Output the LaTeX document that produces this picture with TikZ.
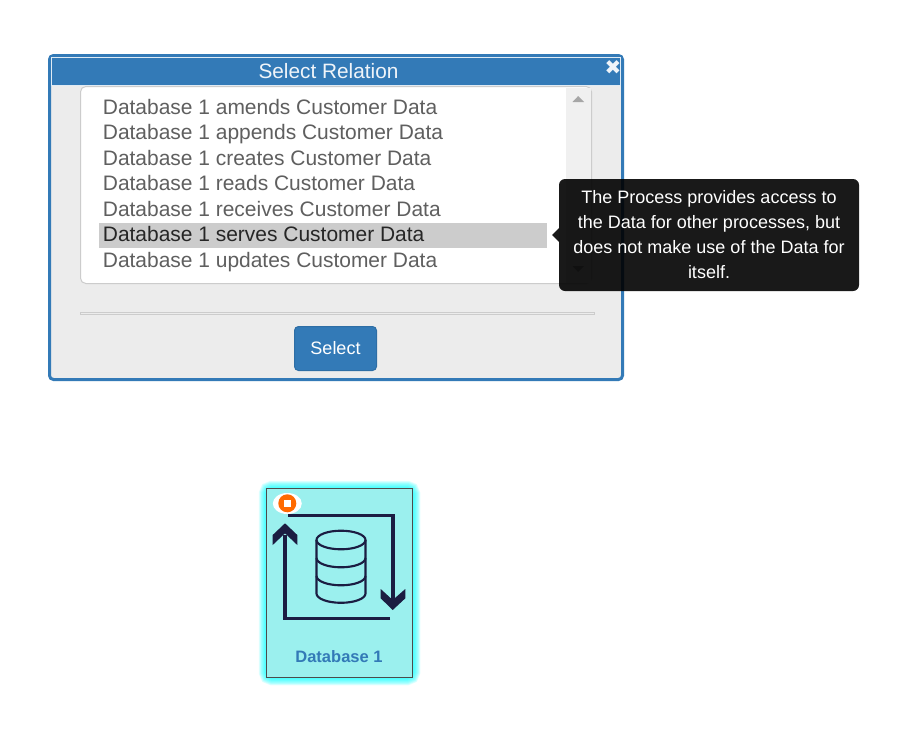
\documentclass[tikz,border=0pt]{standalone}
\usepackage{fontspec}
\setmainfont{Liberation Sans}
\newfontfamily\symfont{DejaVu Sans}
\usetikzlibrary{calc}
\definecolor{bsblue}{HTML}{337AB7}
\definecolor{dlgbg}{HTML}{ECECEC}
\definecolor{itemgrey}{HTML}{5F5F5F}
\definecolor{navyicon}{HTML}{1B1D42}
\definecolor{cardfill}{HTML}{9BF0EE}
\definecolor{glowcyan}{HTML}{00FFFF}
\definecolor{badgeorange}{HTML}{FF6A00}
\tikzset{
  x=0.75pt,y=-0.75pt,
  listitem/.style={anchor=base west,inner sep=0pt,text=itemgrey,font=\fontsize{15.72}{18}\selectfont},
  iconline/.style={draw=navyicon,line width=2.5pt},
  dbline/.style={draw=navyicon,line width=1.6pt},
  iconhead/.style={fill=navyicon,draw=none},
}
\begin{document}
\begin{tikzpicture}
\useasboundingbox (0,0) rectangle (900,732);
\fill[white] (0,0) rectangle (900,732);
% dialog
\draw[draw=bsblue,fill=dlgbg,line width=2.25pt,rounded corners=3pt] (49.5,55.5) rectangle (622.5,379.5);
\draw[fill=bsblue,draw=white!85!bsblue,line width=0.75pt] (51.5,57.5) rectangle (620.5,85);
\node[inner sep=0pt,text=white!92!bsblue,font=\fontsize{15.6}{18}\selectfont] (title) at (328.5,71) {Select Relation};
\node[inner sep=0pt,text=white!92!bsblue,font=\symfont\fontsize{15}{16}\selectfont] (closex) at (613,67.5) {✖};
% list box
\draw[draw=black!20,fill=white,line width=0.75pt,rounded corners=4pt] (80.5,86.5) rectangle (591.5,283.5);
\fill[black!6] (566,88) rectangle (591,283);
\fill[black!35] (572.5,102) -- (584,102) -- (578.2,96) -- cycle;
\fill[black!35] (572.5,266) -- (584,266) -- (578.2,272) -- cycle;
\fill[black!20] (99,223) rectangle (547,248);
\node[listitem] (i1) at (102.6,114) {Database 1 amends Customer Data};
\node[listitem] (i2) at (102.6,139.5) {Database 1 appends Customer Data};
\node[listitem] (i3) at (102.6,165) {Database 1 creates Customer Data};
\node[listitem] (i4) at (102.6,190.5) {Database 1 reads Customer Data};
\node[listitem] (i5) at (102.6,216) {Database 1 receives Customer Data};
\node[listitem,text=black!85] (i6) at (102.6,241.5) {Database 1 serves Customer Data};
\node[listitem] (i7) at (102.6,267) {Database 1 updates Customer Data};
% separator
\draw[draw=black!20,fill=dlgbg,line width=0.9pt] (80.5,312.3) rectangle (594.5,314.7);
% button
\draw[fill=bsblue,draw=bsblue!90!black,line width=0.75pt,rounded corners=3pt] (294.5,326.5) rectangle (376.5,370.5);
\node[inner sep=0pt,text=white,font=\fontsize{13.5}{16}\selectfont] (selectbtn) at (335.5,348) {Select};
% tooltip
\fill[black,opacity=0.9,rounded corners=4.5pt] (559,179) rectangle (859,291);
\fill[black,opacity=0.9] (559,228) -- (552,235) -- (559,242) -- cycle;
\node[inner sep=0pt,text=white,align=center,font=\fontsize{13.5}{18.75}\selectfont] (tip) at (709,234.5) {The Process provides access to\\the Data for other processes, but\\does not make use of the Data for\\itself.};
% card glow
\foreach \w in {15.5,14,12.5,11,9.5,8,6.5,5,3.5,2}{
  \draw[draw=glowcyan,opacity=0.11,line width=\w*0.75pt,rounded corners=4pt] (266.5,488.5) rectangle (412.5,677.5);
}
\draw[fill=cardfill,draw=black!70,line width=0.75pt] (266.5,488.5) rectangle (412.5,677.5);
% icon arrows
\draw[iconline] (288,515.3) -- (393,515.3) -- (393,600);
\draw[iconline] (390,618.3) -- (285,618.3) -- (285,535);
\fill[iconhead] (380.7,589) -- (392.7,600) -- (405.3,589) -- (405.3,598.3) -- (392.7,610) -- (380.7,598.3) -- cycle;
\fill[iconhead] (272.7,535) -- (285,523.3) -- (297.3,535) -- (297.3,545) -- (285,533.3) -- (272.7,545) -- cycle;
% database
\draw[dbline] (341,540) ellipse [x radius=24.5,y radius=9.3];
\draw[dbline] (316.5,540) -- (316.5,593.5) arc [start angle=180,end angle=0,x radius=24.5,y radius=9.3] -- (365.5,540);
\draw[dbline] (316.5,558) arc [start angle=180,end angle=0,x radius=24.5,y radius=9.3];
\draw[dbline] (316.5,576) arc [start angle=180,end angle=0,x radius=24.5,y radius=9.3];
% status badge
\fill[white] (287.3,503.5) ellipse [x radius=14.5,y radius=10.5];
\fill[badgeorange] (287.3,503.3) circle [radius=9];
\fill[white] (283.5,499.5) rectangle (291.1,507.1);
\node[inner sep=0pt,text=bsblue,font=\bfseries\fontsize{12.4}{14}\selectfont] (cardlabel) at (339,656.5) {Database 1};
\end{tikzpicture}
\end{document}
